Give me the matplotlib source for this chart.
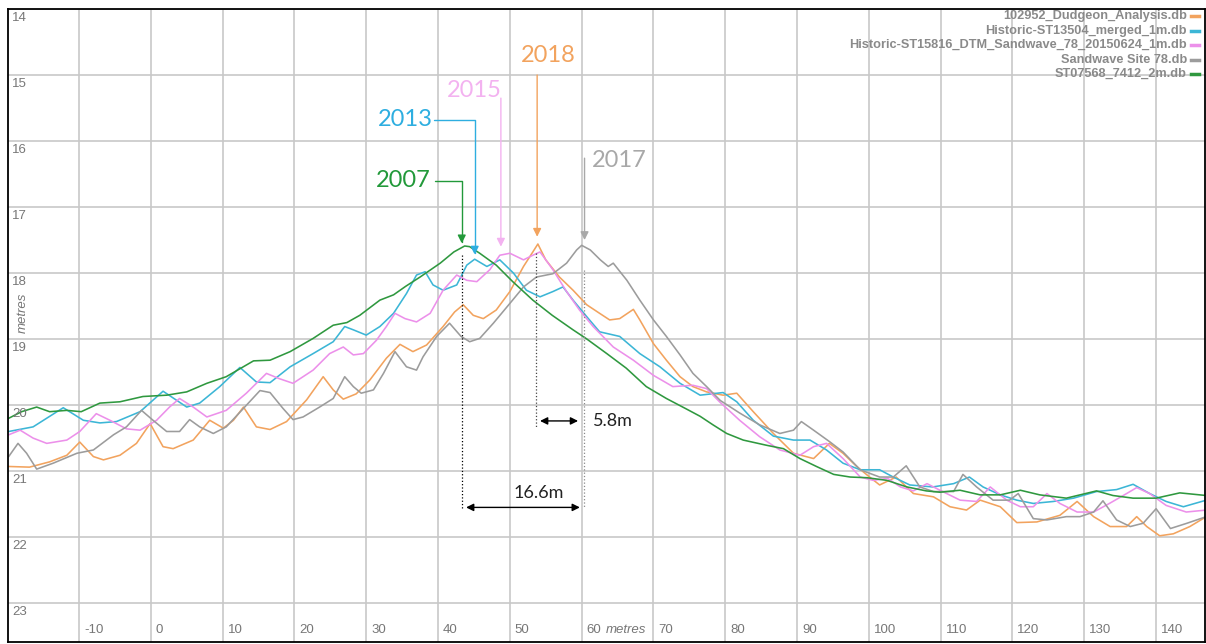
import matplotlib.pyplot as plt
from matplotlib.lines import Line2D

# profile 2007 - ST07568_7412_2m.db
x_2007 = [-19.8, -18, -15.9, -14.1, -11.7, -9.7, -7.1, -4.3, -1.1, 2.2, 5, 7.8, 10.5, 14.3, 16.6, 19.4,
          22.6, 25.4, 27.3, 29.1, 31.9, 33.8, 35.5, 37.5, 40.3, 42.2, 43.7, 44.4, 45.8, 48.1, 50.4, 53.2,
          55.9, 58.8, 60.6, 63.5, 66.2, 69.0, 71.8, 74.6, 76.5, 78.3, 80.2, 82.5, 85.8, 88.1, 90.4, 92.7,
          95.1, 97.4, 99.7, 102.5, 105.3, 108.0, 109.9, 112.7, 115.5, 118.3, 121.1, 123.8, 127.5, 131.7,
          134, 136.8, 140, 143.3, 147]
y_2007 = [20.2, 20.1, 20.03, 20.1, 20.08, 20.1, 19.97, 19.95, 19.87, 19.85, 19.8, 19.67, 19.57, 19.33,
          19.32, 19.19, 18.99, 18.79, 18.75, 18.64, 18.41, 18.33, 18.2, 18.06, 17.85, 17.68, 17.59, 17.6,
          17.7, 17.88, 18.13, 18.41, 18.64, 18.86, 18.99, 19.22, 19.44, 19.72, 19.9, 20.06, 20.17, 20.3,
          20.43, 20.53, 20.61, 20.66, 20.81, 20.93, 21.05, 21.09, 21.1, 21.14, 21.24, 21.3, 21.32, 21.29,
          21.36, 21.36, 21.29, 21.36, 21.41, 21.3, 21.37, 21.41, 21.41, 21.33, 21.37]

# profile 2013 - Historic-ST13504_merged_1m.db
x_2013 = [-19.8, -16.4, -12.2, -9.4, -7.1, -4.8, -1.5, 1.7, 5, 6.8, 9.6, 12.4, 14.7, 16.6, 19.4, 22.6,
          25.4, 27, 28.2, 30, 31.9, 33.8, 35.6, 37, 38.2, 39.3, 40.7, 42.6, 44, 45.1, 46.8, 48.6, 50.5,
          52.3, 54.2, 56, 57.4, 58.8, 60.7, 62.5, 65.3, 68.1, 70.9, 73.7, 76.5, 79.7, 81.6, 83.9, 86.7,
          89.5, 91.8, 94.1, 96.4, 98.8, 101.5, 103.4, 105.7, 108.9, 111.8, 114, 115.9, 118.3, 120.6,
          122.9, 125.7, 128.5, 131.7, 134.5, 136.8, 139.1, 141.4, 143.8, 147]
y_2013 = [20.4, 20.33, 20.04, 20.23, 20.27, 20.25, 20.1, 19.79, 20.03, 19.97, 19.72, 19.43, 19.65, 19.66,
          19.42, 19.22, 19.04, 18.81, 18.86, 18.94, 18.81, 18.61, 18.31, 18.03, 17.98, 18.18, 18.26, 18.18,
          17.88, 17.79, 17.9, 17.8, 18.0, 18.26, 18.36, 18.28, 18.21, 18.41, 18.66, 18.89, 18.96, 19.22,
          19.42, 19.67, 19.85, 19.81, 19.95, 20.23, 20.47, 20.53, 20.53, 20.68, 20.88, 20.98, 20.98,
          21.09, 21.21, 21.24, 21.19, 21.09, 21.24, 21.36, 21.44, 21.49, 21.46, 21.41, 21.31, 21.28,
          21.2, 21.34, 21.46, 21.54, 21.44]

# profile 2015 - Historic-ST15816_DTM_Sandwave_78_20150624_1m.db
x_2015 = [-19.8, -18.2, -16.4, -14.5, -11.7, -9.9, -7.6, -5.7, -3.4, -1.5, 0.8, 2.6, 4, 5.9, 7.8, 10.5,
          13.3, 16.1, 17.9, 19.8, 22.6, 24.9, 26.8, 28.2, 29.6, 31.4, 32.8, 34, 35.4, 37, 38.9, 40.7, 42.6,
          44, 45.4, 47.2, 48.6, 50, 51.9, 53.2, 54.2, 56, 57.9, 59.7, 61.6, 64.4, 67.2, 70, 72.7, 75.5,
          77.4, 79.2, 82, 84.8, 87.6, 90.4, 92.3, 94.1, 96.4, 98.8, 100.6, 102.6, 104.4, 106.2, 108.1,
          109.9, 112.7, 115, 116.9, 119.2, 121.1, 122.9, 124.8, 126.6, 129, 131.3, 133.5, 135.9, 137.3,
          139.1, 141.4, 144.2, 147]
y_2015 = [20.45, 20.38, 20.5, 20.58, 20.53, 20.4, 20.13, 20.23, 20.36, 20.38, 20.23, 20.03, 19.9, 20.03,
          20.18, 20.08, 19.82, 19.52, 19.6, 19.67, 19.47, 19.22, 19.12, 19.24, 19.22, 19.02, 18.81, 18.61,
          18.69, 18.74, 18.61, 18.26, 18.03, 18.11, 18.13, 17.95, 17.73, 17.7, 17.8, 17.73, 17.68, 17.95,
          18.28, 18.56, 18.81, 19.12, 19.32, 19.55, 19.72, 19.7, 19.75, 19.95, 20.23, 20.48, 20.68, 20.76,
          20.63, 20.58, 20.81, 21.09, 21.14, 21.11, 21.24, 21.3, 21.19, 21.29, 21.44, 21.46, 21.24, 21.44,
          21.54, 21.54, 21.34, 21.49, 21.62, 21.62, 21.49, 21.34, 21.25, 21.34, 21.52, 21.62, 21.59]

# profile 2017 - Sandwave Site 78.db
x_2017 = [-19.8, -18.5, -17.3, -15.9, -13.6, -10.3, -8, -5.2, -3.4, -1.3, 0.3, 2.2, 4, 5.4, 6.8, 8.7,
          10.5, 12.9, 15.2, 16.6, 18.4, 19.8, 21.2, 23.5, 25.4, 27, 28.2, 29.3, 31, 32.4, 34, 35.6, 37,
          37.9, 39.8, 41.6, 43.2, 44.4, 45.8, 47.7, 50, 51.9, 53.7, 56, 57.9, 59.3, 60, 61.2, 62.6, 63.7,
          64.4, 66.3, 68.1, 70, 71.8, 73.7, 75.5, 77.4, 79.3, 82, 84.8, 87.6, 89.5, 90.6, 92.3, 94.6,
          96.4, 98.8, 101.5, 103.4, 105.2, 107.1, 109, 111.8, 113.1, 115, 117.3, 119.6, 120.8, 122.9,
          124.8, 127.5, 129.4, 131.3, 132.6, 134.5, 136.4, 138.2, 140, 142, 144.3, 147]
y_2017 = [20.78, 20.58, 20.73, 20.97, 20.88, 20.73, 20.68, 20.45, 20.33, 20.08, 20.23, 20.4, 20.4, 20.22,
          20.33, 20.43, 20.33, 20.05, 19.78, 19.81, 20.05, 20.22, 20.18, 20.03, 19.9, 19.57, 19.72, 19.82,
          19.77, 19.52, 19.19, 19.42, 19.47, 19.27, 18.96, 18.76, 18.96, 19.04, 18.99, 18.76, 18.46, 18.21,
          18.06, 18.01, 17.85, 17.65, 17.58, 17.65, 17.8, 17.9, 17.85, 18.11, 18.41, 18.71, 18.96, 19.24,
          19.52, 19.72, 19.93, 20.12, 20.3, 20.43, 20.38, 20.25, 20.38, 20.56, 20.71, 20.98, 21.09, 21.09,
          20.92, 21.24, 21.31, 21.31, 21.05, 21.24, 21.44, 21.44, 21.34, 21.72, 21.74, 21.69, 21.69,
          21.62, 21.45, 21.74, 21.84, 21.79, 21.57, 21.87, 21.79, 21.69]

# profile 2018 - 102952_Dudgeon_Analysis.db
x_2018 = [-19.8, -16.9, -14.1, -11.7, -9.9, -8, -6.6, -4.3, -2, -0.1, 1.7, 3.1, 5.9, 8.2, 10.1, 11.5,
          12.9, 14.7, 16.6, 18.9, 21.7, 24, 25.4, 26.8, 28.6, 30.5, 32.8, 34.7, 36.5, 38.4, 40.7, 42.3,
          43.5, 44.9, 46.3, 48.1, 50, 51.9, 53.2, 53.9, 55, 56.9, 58.8, 60.7, 62.5, 63.9, 65.3, 67.2,
          68.1, 70, 71.8, 73.7, 75.5, 77.4, 79.7, 81.6, 83.9, 86.7, 89.5, 92.3, 94.5, 96.4, 98.3, 100.1,
          101.5, 103.8, 106.2, 109, 111.3, 113.6, 115.5, 118.3, 120.6, 123.4, 126.6, 129, 131.3, 133.6,
          135.9, 137.3, 138.7, 140.5, 142.4, 144.7, 147]
y_2018 = [20.93, 20.94, 20.86, 20.76, 20.56, 20.78, 20.83, 20.76, 20.58, 20.28, 20.63, 20.66, 20.53,
          20.23, 20.35, 20.23, 20.03, 20.33, 20.37, 20.25, 19.92, 19.57, 19.77, 19.91, 19.83, 19.62,
          19.29, 19.08, 19.19, 19.09, 18.81, 18.59, 18.48, 18.64, 18.69, 18.56, 18.28, 17.9, 17.68, 17.56,
          17.8, 18.06, 18.26, 18.48, 18.61, 18.71, 18.69, 18.55, 18.71, 19.07, 19.32, 19.57, 19.72, 19.8,
          19.85, 19.82, 20.1, 20.43, 20.73, 20.81, 20.58, 20.73, 20.93, 21.09, 21.21, 21.09, 21.34, 21.39,
          21.54, 21.59, 21.44, 21.54, 21.78, 21.77, 21.67, 21.46, 21.69, 21.84, 21.84, 21.69, 21.84,
          21.98, 21.95, 21.84, 21.69]

legend_names = ['102952_Dudgeon_Analysis.db', 'Historic-ST13504_merged_1m.db',
                'Historic-ST15816_DTM_Sandwave_78_20150624_1m.db', 'Sandwave Site 78.db',
                'ST07568_7412_2m.db']
x_ticks = list(range(-10, 141, 10))
y_ticks = list(range(14, 24))

c_orange = '#f2a35e'
c_cyan = '#3cb6d6'
c_pink = '#ec90ea'
c_gray = '#9c9c9c'
c_green = '#2f983f'

fig = plt.figure(figsize=(12.06, 6.44), dpi=100)
ax = fig.add_axes([0.0066, 0.003, 0.9925, 0.983])

ax.plot(x_2018, y_2018, color=c_orange, lw=1.15)
ax.plot(x_2013, y_2013, color=c_cyan, lw=1.15)
ax.plot(x_2015, y_2015, color=c_pink, lw=1.15)
ax.plot(x_2017, y_2017, color=c_gray, lw=1.15)
ax.plot(x_2007, y_2007, color=c_green, lw=1.15)

ax.set_xlim(-19.9, 146.8)
ax.set_ylim(23.59, 14.0)
ax.set_xticks(x_ticks)
ax.set_yticks(y_ticks)
ax.tick_params(length=0, labelleft=False, labelbottom=False)
ax.grid(color='#c8c8c8', lw=1.2)
ax.set_axisbelow(True)
for s in ax.spines.values():
    s.set_color('black')
    s.set_linewidth(1.3)

# tick labels drawn inside the frame
for v in y_ticks:
    ax.annotate(str(v), xy=(0, v), xycoords=('axes fraction', 'data'), xytext=(3, -2),
                textcoords='offset points', ha='left', va='top', fontsize=9.5,
                color='#777777', family='Liberation Sans')
for v in x_ticks:
    ax.annotate(str(v), xy=(v, 0), xycoords=('data', 'axes fraction'), xytext=(3.5, 8.5),
                textcoords='offset points', ha='left', va='center', fontsize=9.5,
                color='#777777', family='Liberation Sans')
ax.annotate('metres', xy=(63.4, 0), xycoords=('data', 'axes fraction'), xytext=(0, 8.5),
            textcoords='offset points', ha='left', va='center', fontsize=9.5,
            color='#777777', style='italic', family='Liberation Sans')
ax.annotate('metres', xy=(0.0125, 18.6), xycoords=('axes fraction', 'data'), rotation=90,
            ha='center', va='center', fontsize=9.5, color='#777777', style='italic',
            family='Liberation Sans')

# legend, right aligned text with coloured dash
leg_colors = [c_orange, c_cyan, c_pink, c_gray, c_green]
for i, (name, col) in enumerate(zip(legend_names, leg_colors)):
    yy = 0.989 - i * 0.023
    ax.text(0.985, yy, name, transform=ax.transAxes, ha='right', va='center', fontsize=9.2,
            fontweight='bold', color='#8a8a8a', family='Liberation Sans')
    ax.add_line(Line2D([0.988, 0.995], [yy, yy], transform=ax.transAxes, color=col, lw=2.5))

# year labels and arrows
yr_font = dict(fontsize=17, family='Lato')
arw = dict(arrowstyle='-|>', lw=1.0, mutation_scale=12, shrinkA=0, shrinkB=0)
ax.text(55.3, 14.7, '2018', color=c_orange, ha='center', va='center', **yr_font)
ax.annotate('', xy=(53.8, 17.45), xytext=(53.8, 15.0), arrowprops=dict(color=c_orange, **arw))
ax.text(45.0, 15.24, '2015', color='#f3b2f0', ha='center', va='center', **yr_font)
ax.annotate('', xy=(48.75, 17.6), xytext=(48.75, 15.35), arrowprops=dict(color='#f3b2f0', **arw))
ax.text(35.5, 15.68, '2013', color='#2eaee0', ha='center', va='center', **yr_font)
ax.annotate('', xy=(45.1, 17.72), xytext=(39.4, 15.68),
            arrowprops=dict(color='#2eaee0', connectionstyle='angle,angleA=0,angleB=90,rad=0', **arw))
ax.text(35.2, 16.6, '2007', color='#22993a', ha='center', va='center', **yr_font)
ax.annotate('', xy=(43.3, 17.55), xytext=(39.6, 16.6),
            arrowprops=dict(color='#22993a', connectionstyle='angle,angleA=0,angleB=90,rad=0', **arw))
ax.text(65.3, 16.29, '2017', color='#a8a8a8', ha='center', va='center', **yr_font)
ax.annotate('', xy=(60.4, 17.5), xytext=(60.4, 16.26), arrowprops=dict(color='#a8a8a8', **arw))

# crest offsets
ax.vlines(43.3, 17.73, 21.56, colors='black', linestyles=':', lw=0.9)
ax.vlines(53.6, 17.7, 20.33, colors='#444444', linestyles=':', lw=0.9)
ax.vlines(60.3, 17.95, 21.56, colors='#888888', linestyles=':', lw=0.9)
dbl = dict(arrowstyle='<|-|>', color='black', lw=1.0, mutation_scale=11, shrinkA=0, shrinkB=0)
ax.annotate('', xy=(59.5, 20.24), xytext=(54.2, 20.24), arrowprops=dbl)
ax.text(61.6, 20.24, '5.8m', ha='left', va='center', fontsize=13, family='Lato', color='#222222')
ax.annotate('', xy=(59.75, 21.55), xytext=(43.9, 21.55), arrowprops=dbl)
ax.text(54.0, 21.33, '16.6m', ha='center', va='center', fontsize=13, family='Lato', color='#222222')

fig.savefig('out.png', dpi=100)
